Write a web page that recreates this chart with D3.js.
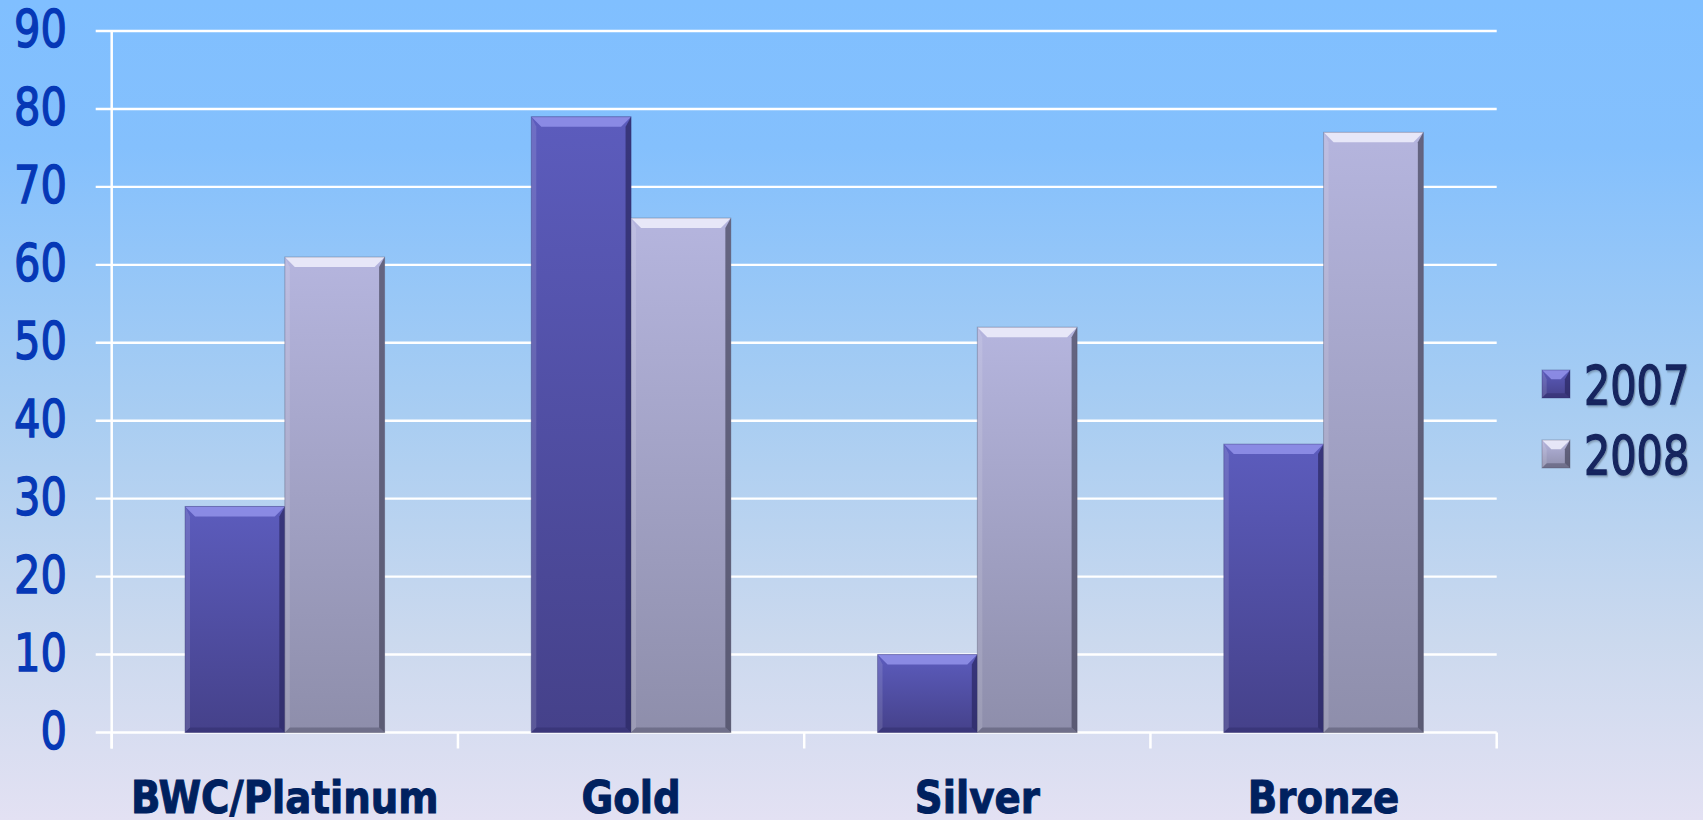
<!DOCTYPE html>
<html lang="en">
<head>
    <meta charset="UTF-8">
    <title>2007 vs 2008</title>
    <style>
        body { margin: 0; overflow: hidden; }
        svg { display: block; }
    </style>
</head>
<body>
    <svg id="chart" width="1703" height="820"></svg>
    <script src="https://d3js.org/d3.v7.min.js"></script>
    <script>
        // chart data
        var categories = ["BWC/Platinum", "Gold", "Silver", "Bronze"];
        var seriesNames = ["2007", "2008"];
        var values2007 = [29, 79, 10, 37];
        var values2008 = [61, 66, 52, 77];
        var yTicks = [0, 10, 20, 30, 40, 50, 60, 70, 80, 90];

        var W = 1703, H = 820;
        var svg = d3.select("#chart");
        var defs = svg.append("defs");

        // background gradient
        var bg = defs.append("linearGradient").attr("id", "bg")
            .attr("x1", 0).attr("y1", 0).attr("x2", 0).attr("y2", 1);
        [[0, "#80bfff"], [0.18, "#84c0fd"], [0.5, "#a8cdf2"], [0.78, "#cbd9ee"], [1, "#e3e1f3"]]
            .forEach(function(s) { bg.append("stop").attr("offset", s[0]).attr("stop-color", s[1]); });
        svg.append("rect").attr("width", W).attr("height", H).attr("fill", "url(#bg)");

        // soft shadow for legend text
        var sh = defs.append("filter").attr("id", "shadow")
            .attr("x", "-10%").attr("y", "-10%").attr("width", "130%").attr("height", "130%");
        sh.append("feDropShadow").attr("dx", 1.5).attr("dy", 1.5).attr("stdDeviation", 1)
            .attr("flood-color", "#000000").attr("flood-opacity", 0.3);

        // bar gradients (per bar)
        var barColors = {
            "2007": { top: "#5c5cbd", bottom: "#45418a", light: "#8f8fe8", dark: "#2c2a66" },
            "2008": { top: "#b5b5de", bottom: "#8e8eab", light: "#ececfb", dark: "#4a4a62" }
        };
        seriesNames.forEach(function(s) {
            var g = defs.append("linearGradient").attr("id", "g" + s)
                .attr("x1", 0).attr("y1", 0).attr("x2", 0).attr("y2", 1);
            g.append("stop").attr("offset", 0).attr("stop-color", barColors[s].top);
            g.append("stop").attr("offset", 1).attr("stop-color", barColors[s].bottom);
        });

        var plotLeft = 111.7, plotRight = 1496.7, plotTop = 31, plotBottom = 732.5;

        var x0 = d3.scaleBand().domain(categories).range([plotLeft, plotRight]).padding(0);
        var x1 = d3.scaleBand().domain(seriesNames).range([0, x0.bandwidth()])
            .paddingInner(0).paddingOuter(0.735);
        var y = d3.scaleLinear().domain([0, 90]).range([plotBottom, plotTop]);

        // gridlines + y ticks
        svg.append("g").selectAll("line").data(yTicks).enter().append("line")
            .attr("x1", plotLeft - 16).attr("x2", plotRight)
            .attr("y1", function(d) { return y(d); })
            .attr("y2", function(d) { return y(d); })
            .attr("stroke", "#ffffff").attr("stroke-width", 2.4);

        // y axis line
        svg.append("line")
            .attr("x1", plotLeft).attr("x2", plotLeft).attr("y1", plotTop).attr("y2", plotBottom + 16)
            .attr("stroke", "#ffffff").attr("stroke-width", 2.5);

        // x ticks at category boundaries
        var bounds = categories.map(function(c) { return x0(c); }).concat([plotRight]);
        svg.append("g").selectAll("line").data(bounds).enter().append("line")
            .attr("x1", function(d) { return d; }).attr("x2", function(d) { return d; })
            .attr("y1", plotBottom).attr("y2", plotBottom + 16)
            .attr("stroke", "#ffffff").attr("stroke-width", 2.5);

        // y labels
        svg.append("g").selectAll("text").data(yTicks).enter().append("text")
            .attr("transform", function(d) { return "translate(67," + (y(d) + 16) + ") scale(0.8,1)"; })
            .attr("text-anchor", "end")
            .style("font-family", "'DejaVu Sans', Verdana, sans-serif")
            .style("font-size", "52px")
            .attr("fill", "#0638b6")
            .attr("stroke", "#0638b6").attr("stroke-width", 1.4)
            .text(function(d) { return d; });

        // bars
        var rows = [];
        categories.forEach(function(c, i) {
            rows.push({ cat: c, s: "2007", v: values2007[i] });
            rows.push({ cat: c, s: "2008", v: values2008[i] });
        });

        function drawBevelBox(g, bx, by, bw, bh, s) {
            var c = barColors[s];
            var bv = Math.min(10, bh / 3);
            g.append("rect").attr("x", bx).attr("y", by).attr("width", bw).attr("height", bh)
                .attr("fill", "url(#g" + s + ")");
            // top bevel
            g.append("path")
                .attr("d", "M" + bx + "," + by + "H" + (bx + bw) + "L" + (bx + bw - bv) + "," + (by + bv) +
                    "H" + (bx + bv) + "Z")
                .attr("fill", c.light).attr("opacity", 0.9);
            // left bevel
            g.append("path")
                .attr("d", "M" + bx + "," + by + "L" + (bx + bv * 0.5) + "," + (by + bv) +
                    "V" + (by + bh - bv * 0.5) + "L" + bx + "," + (by + bh) + "Z")
                .attr("fill", "#ffffff").attr("opacity", 0.12);
            // right bevel
            g.append("path")
                .attr("d", "M" + (bx + bw) + "," + by + "L" + (bx + bw - bv * 0.55) + "," + (by + bv) +
                    "V" + (by + bh - bv * 0.5) + "L" + (bx + bw) + "," + (by + bh) + "Z")
                .attr("fill", c.dark).attr("opacity", 0.75);
            // bottom bevel
            g.append("path")
                .attr("d", "M" + bx + "," + (by + bh) + "L" + (bx + bv * 0.5) + "," + (by + bh - bv * 0.5) +
                    "H" + (bx + bw - bv * 0.55) + "L" + (bx + bw) + "," + (by + bh) + "Z")
                .attr("fill", c.dark).attr("opacity", 0.45);
            g.append("rect").attr("x", bx).attr("y", by).attr("width", bw).attr("height", bh)
                .attr("fill", "none").attr("stroke", c.dark).attr("stroke-opacity", 0.35).attr("stroke-width", 1);
        }

        var barG = svg.append("g");
        rows.forEach(function(d) {
            var bx = x0(d.cat) + x1(d.s);
            var by = y(d.v);
            drawBevelBox(barG, bx, by, x1.bandwidth(), y(0) - by, d.s);
        });

        // x labels
        svg.append("g").selectAll("text").data(categories).enter().append("text")
            .attr("transform", function(d) {
                return "translate(" + (x0(d) + x0.bandwidth() / 2) + ",813) scale(0.88,1)";
            })
            .attr("text-anchor", "middle")
            .style("font-family", "'DejaVu Sans', Verdana, sans-serif")
            .style("font-weight", "bold")
            .style("font-size", "44px")
            .attr("fill", "#00215f")
            .attr("stroke", "#00215f").attr("stroke-width", 1)
            .text(function(d) { return d; });

        // legend
        var legend = svg.append("g");
        seriesNames.forEach(function(s, i) {
            var cy = 384 + i * 70;
            drawBevelBox(legend, 1542, cy - 14, 28, 28, s);
            legend.append("text")
                .attr("transform", "translate(1584," + (cy + 20) + ") scale(0.78,1)")
                .style("font-family", "'DejaVu Sans', Verdana, sans-serif")
                .style("font-size", "53px")
                .attr("fill", "#14255e")
                .attr("stroke", "#14255e").attr("stroke-width", 1.4)
                .attr("filter", "url(#shadow)")
                .text(s);
        });
    </script>
</body>
</html>
